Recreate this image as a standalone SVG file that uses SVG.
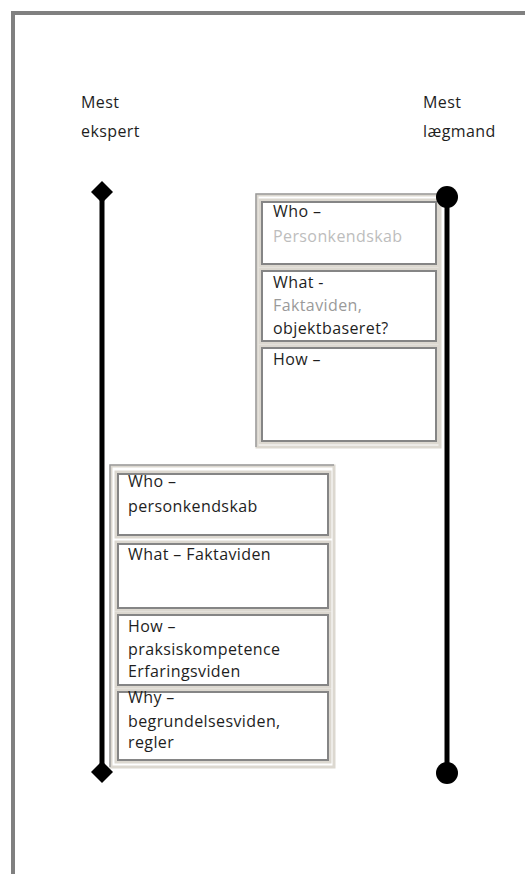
<svg xmlns="http://www.w3.org/2000/svg" width="525" height="874" viewBox="0 0 525 874">
<style>
text{font-family:"Open Sans","Liberation Sans",sans-serif;font-size:16px;letter-spacing:0.4px;fill:#1e1e1e}
.lg{fill:#bdbdbd}
.mg{fill:#9a9a9a}
.frame{fill:none;stroke:#808080;stroke-width:4}
.cont{fill:#fff;stroke:#dcd8d0;stroke-width:3}
.cont2{fill:none;stroke:#9a9a9a;stroke-width:1.5}
.boxo{fill:#fff;stroke:#dcd8d0;stroke-width:3}
.boxi{fill:none;stroke:#858585;stroke-width:2}
.axis{stroke:#000;stroke-width:5;fill:none}
</style>
<defs>
<marker id="dia" markerUnits="userSpaceOnUse" markerWidth="24" markerHeight="24" refX="12" refY="12" orient="0">
<path d="M12 1 L23 12 L12 23 L1 12 Z" fill="#000"/>
</marker>
<marker id="dot" markerUnits="userSpaceOnUse" markerWidth="24" markerHeight="24" refX="12" refY="12" orient="0">
<circle cx="12" cy="12" r="11" fill="#000"/>
</marker>
</defs>
<rect width="525" height="874" fill="#fff"/>
<path class="frame" d="M13 874 V13 H525"/>
<g id="label-ekspert">
<text x="81" y="108">Mest</text>
<text x="81" y="137">ekspert</text>
</g>
<g id="label-laegmand">
<text x="423" y="108">Mest</text>
<text x="423" y="137">lægmand</text>
</g>
<g id="upper">
<rect class="cont" x="257" y="195" width="183" height="252"/>
<path class="cont2" d="M256 447 V194 H440"/>
<g id="u-who">
<rect class="boxo" x="260" y="200" width="178" height="66"/>
<rect class="boxi" x="262" y="202" width="174" height="62"/>
<text x="273" y="217">Who –</text>
<text x="273" y="242" class="lg">Personkendskab</text>
</g>
<g id="u-what">
<rect class="boxo" x="260" y="269" width="178" height="74"/>
<rect class="boxi" x="262" y="271" width="174" height="70"/>
<text x="273" y="288">What -</text>
<text x="273" y="311" class="mg">Faktaviden,</text>
<text x="273" y="334">objektbaseret?</text>
</g>
<g id="u-how">
<rect class="boxo" x="260" y="346" width="178" height="97"/>
<rect class="boxi" x="262" y="348" width="174" height="93"/>
<text x="273" y="365">How –</text>
</g>
</g>
<g id="lower">
<rect class="cont" x="111" y="466" width="223" height="301"/>
<path class="cont2" d="M110 767 V465 H334"/>
<g id="l-who">
<rect class="boxo" x="116" y="472" width="214" height="65"/>
<rect class="boxi" x="118" y="474" width="210" height="61"/>
<text x="128" y="487">Who –</text>
<text x="128" y="512">personkendskab</text>
</g>
<g id="l-what">
<rect class="boxo" x="116" y="542" width="214" height="68"/>
<rect class="boxi" x="118" y="544" width="210" height="64"/>
<text x="128" y="560">What – Faktaviden</text>
</g>
<g id="l-how">
<rect class="boxo" x="116" y="613" width="214" height="74"/>
<rect class="boxi" x="118" y="615" width="210" height="70"/>
<text x="128" y="632">How –</text>
<text x="128" y="655">praksiskompetence</text>
<text x="128" y="677">Erfaringsviden</text>
</g>
<g id="l-why">
<rect class="boxo" x="116" y="690" width="214" height="72"/>
<rect class="boxi" x="118" y="692" width="210" height="68"/>
<text x="128" y="703">Why –</text>
<text x="128" y="727">begrundelsesviden,</text>
<text x="128" y="748">regler</text>
</g>
</g>
<g id="connectors">
<line class="axis" x1="102" y1="192" x2="102" y2="772" marker-start="url(#dia)" marker-end="url(#dia)"/>
<line class="axis" x1="447" y1="197" x2="447" y2="773" marker-start="url(#dot)" marker-end="url(#dot)"/>
</g>
</svg>
